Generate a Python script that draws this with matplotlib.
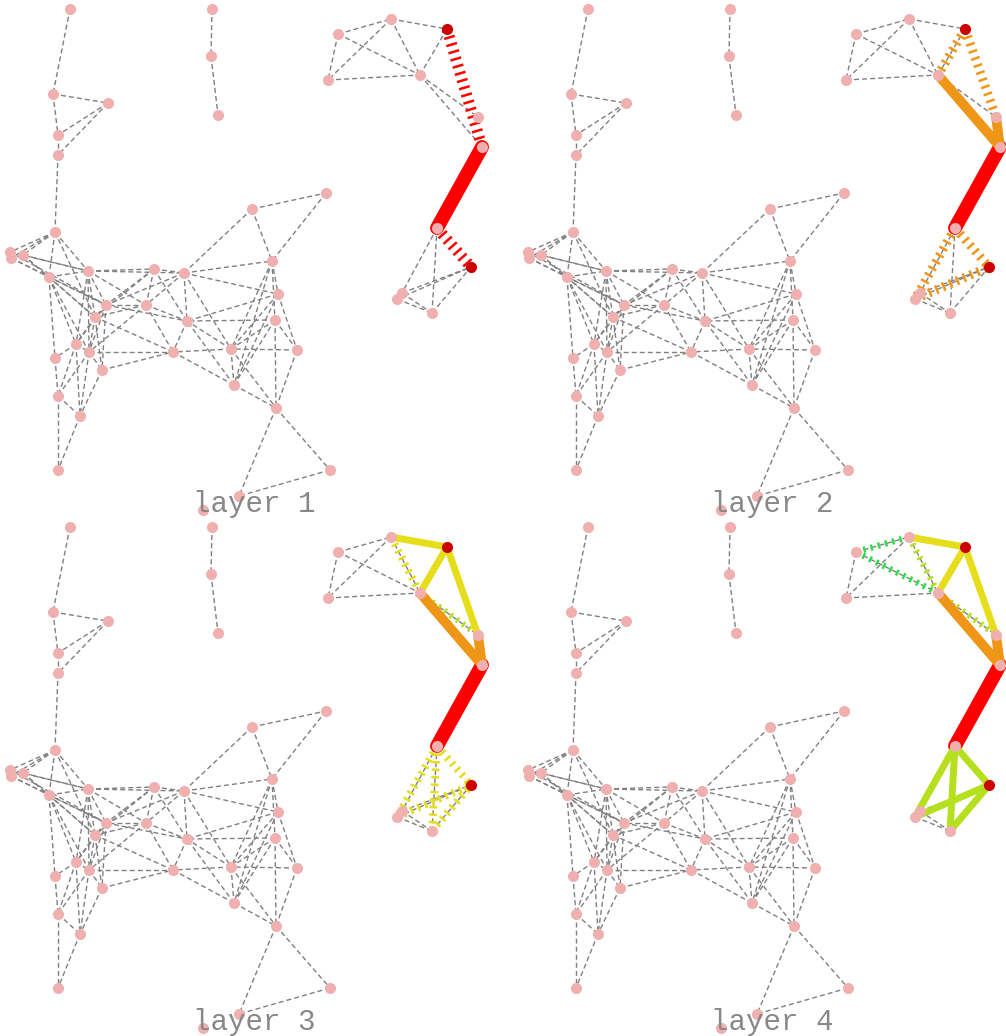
import matplotlib
matplotlib.use("Agg")
import matplotlib.pyplot as plt

# node positions (pixels inside one panel, measured from the first panel)
nodes = {
    "A": (70, 9), "B": (53, 94), "C": (108, 103), "D": (58, 135), "E": (58, 155),
    "F": (55, 232), "G": (212, 9), "H": (211, 56), "I": (218, 115),
    "J1": (10, 252), "J2": (11, 258), "K": (23, 255), "L": (49, 277), "M": (88, 271),
    "N": (154, 269), "O": (184, 273), "P": (252, 209), "Q": (326, 193), "R": (272, 261),
    "S": (278, 294), "T": (275, 320), "U": (297, 350), "V": (231, 349), "W": (234, 385),
    "X": (276, 408), "Y": (330, 470), "Z": (239, 496), "AA": (203, 510),
    "AB": (106, 305), "AC": (146, 305), "AD": (95, 317), "AE": (187, 321),
    "AF": (76, 344), "AG": (89, 352), "AH": (55, 358), "AI": (173, 352),
    "AJ": (102, 370), "AK": (58, 396), "AL": (80, 416), "AM": (58, 470),
    "BA": (338, 34), "BB": (391, 19), "BC": (447, 29), "BD": (328, 80),
    "BE": (420, 75), "BF": (478, 117), "BG": (482, 147), "BH": (437, 228),
    "BI": (471, 267), "BJ": (402, 293), "BK": (397, 299), "BL": (432, 313),
}
sources = ["BC", "BI"]

gray_edges = [
    ("A", "B"), ("B", "C"), ("B", "D"), ("C", "D"), ("C", "E"), ("D", "E"), ("E", "F"),
    ("G", "H"), ("H", "I"),
    ("F", "J1"), ("F", "J2"), ("F", "K"), ("F", "L"), ("F", "M"), ("F", "AD"),
    ("J1", "K"), ("J2", "L"), ("J1", "M"), ("K", "M"), ("K", "L"), ("J2", "AB"), ("K", "AD"),
    ("J1", "AB"), ("L", "M"), ("L", "AH"), ("L", "AF"), ("L", "AG"), ("L", "AD"), ("L", "AB"),
    ("M", "N"), ("M", "AB"), ("M", "AD"), ("M", "AF"), ("M", "AG"), ("M", "AC"), ("M", "O"),
    ("N", "O"), ("N", "AB"), ("N", "AD"), ("N", "AE"), ("N", "AC"),
    ("O", "P"), ("O", "R"), ("O", "S"), ("O", "AE"), ("O", "V"), ("O", "AC"), ("O", "AB"),
    ("P", "Q"), ("P", "R"), ("Q", "R"),
    ("R", "S"), ("R", "T"), ("R", "V"), ("R", "W"),
    ("S", "U"), ("S", "V"), ("S", "AE"), ("S", "W"),
    ("T", "U"), ("T", "V"), ("T", "W"), ("T", "X"), ("T", "AE"),
    ("U", "V"), ("U", "X"), ("V", "W"), ("V", "X"), ("V", "AI"), ("V", "AE"),
    ("W", "AI"), ("W", "X"), ("W", "AE"), ("X", "Y"), ("X", "Z"), ("Y", "Z"),
    ("AE", "AI"), ("AC", "AE"), ("AC", "AD"), ("AC", "AB"), ("AC", "AI"), ("AC", "AG"),
    ("AB", "AD"), ("AB", "AE"), ("AB", "AG"), ("AB", "AF"), ("AB", "AJ"),
    ("AD", "AF"), ("AD", "AG"), ("AD", "AI"), ("AD", "AJ"),
    ("AF", "AG"), ("AF", "AH"), ("AF", "AK"), ("AF", "AL"),
    ("AG", "AI"), ("AG", "AJ"), ("AG", "AL"), ("AG", "AK"), ("AJ", "AI"), ("AJ", "AL"),
    ("AH", "AK"), ("AK", "AL"), ("AK", "AM"), ("AL", "AM"),
    ("BA", "BB"), ("BB", "BC"), ("BA", "BD"), ("BB", "BD"), ("BA", "BE"), ("BB", "BE"),
    ("BD", "BE"), ("BE", "BC"), ("BE", "BF"), ("BE", "BG"),
    ("BH", "BJ"), ("BH", "BL"), ("BJ", "BI"), ("BK", "BI"), ("BJ", "BL"), ("BK", "BL"), ("BL", "BI"),
]

red = "#ff0000"
orange = "#ef9616"
yellow = "#e6de1a"
lime = "#b6e01e"
green = "#30dc48"

# (edge, colour, solid?) per layer
layers = [
    [(("BG", "BH"), red, True), (("BC", "BG"), red, False), (("BH", "BI"), red, False)],
    [(("BG", "BH"), red, True), (("BE", "BG"), orange, True), (("BF", "BG"), orange, True),
     (("BC", "BE"), orange, False), (("BC", "BF"), orange, False),
     (("BH", "BK"), orange, False), (("BH", "BI"), orange, False), (("BK", "BI"), orange, False)],
    [(("BG", "BH"), red, True), (("BE", "BG"), orange, True), (("BF", "BG"), orange, True),
     (("BB", "BC"), yellow, True), (("BC", "BE"), yellow, True), (("BC", "BF"), yellow, True),
     (("BB", "BE"), yellow, False), (("BE", "BF"), lime, False),
     (("BH", "BK"), yellow, False), (("BH", "BL"), yellow, False), (("BH", "BI"), yellow, False),
     (("BK", "BI"), yellow, False), (("BL", "BI"), yellow, False)],
    [(("BG", "BH"), red, True), (("BE", "BG"), orange, True), (("BF", "BG"), orange, True),
     (("BB", "BC"), yellow, True), (("BC", "BE"), yellow, True), (("BC", "BF"), yellow, True),
     (("BH", "BK"), lime, True), (("BH", "BL"), lime, True), (("BH", "BI"), lime, True),
     (("BK", "BI"), lime, True), (("BL", "BI"), lime, True),
     (("BA", "BB"), green, False), (("BA", "BE"), green, False),
     (("BB", "BE"), lime, False), (("BE", "BF"), lime, False)],
]
labels = ["layer 1", "layer 2", "layer 3", "layer 4"]

solid_width = {red: 10, orange: 7, yellow: 5, lime: 5}
dash_width = {red: 8, orange: 6.5, yellow: 5.5, lime: 4.5, green: 4.5}

W, H = 1006, 1036
step = 518
fig = plt.figure(figsize=(W / 100, H / 100), dpi=100)

for k in range(4):
    row, col = divmod(k, 2)
    x0 = col * step
    y0 = row * step
    w = min(step, W - x0)
    h = min(step, H - y0)
    ax = fig.add_axes([x0 / W, 1 - (y0 + h) / H, w / W, h / H])
    ax.set_xlim(0, w)
    ax.set_ylim(h, 0)
    ax.axis("off")

    for a, b in gray_edges:
        (xa, ya), (xb, yb) = nodes[a], nodes[b]
        ax.plot([xa, xb], [ya, yb], color="#808080", lw=1.0, dashes=(3.6, 2.2), zorder=1)

    for (a, b), c, solid in layers[k]:
        (xa, ya), (xb, yb) = nodes[a], nodes[b]
        if solid:
            ax.plot([xa, xb], [ya, yb], color=c, lw=solid_width[c],
                    solid_capstyle="round", zorder=3)
        else:
            lw = dash_width[c]
            # short bars across a wide line -> "hatched" look
            ax.plot([xa, xb], [ya, yb], color=c, lw=lw, dashes=(1.8 / lw, 3.6 / lw),
                    dash_capstyle="butt", zorder=2)

    xs = [p[0] for n, p in nodes.items() if n not in sources]
    ys = [p[1] for n, p in nodes.items() if n not in sources]
    ax.plot(xs, ys, "o", color="#f0b0b0", ms=8, mew=0, zorder=4)
    ax.plot([nodes[s][0] for s in sources], [nodes[s][1] for s in sources], "o",
            color="#cc0000", ms=8, mew=0, zorder=4)

    ax.text(254, 504, labels[k], ha="center", va="center", fontsize=21,
            family="Liberation Mono", color="#888888", zorder=5)

fig.savefig("out.png", dpi=100)
